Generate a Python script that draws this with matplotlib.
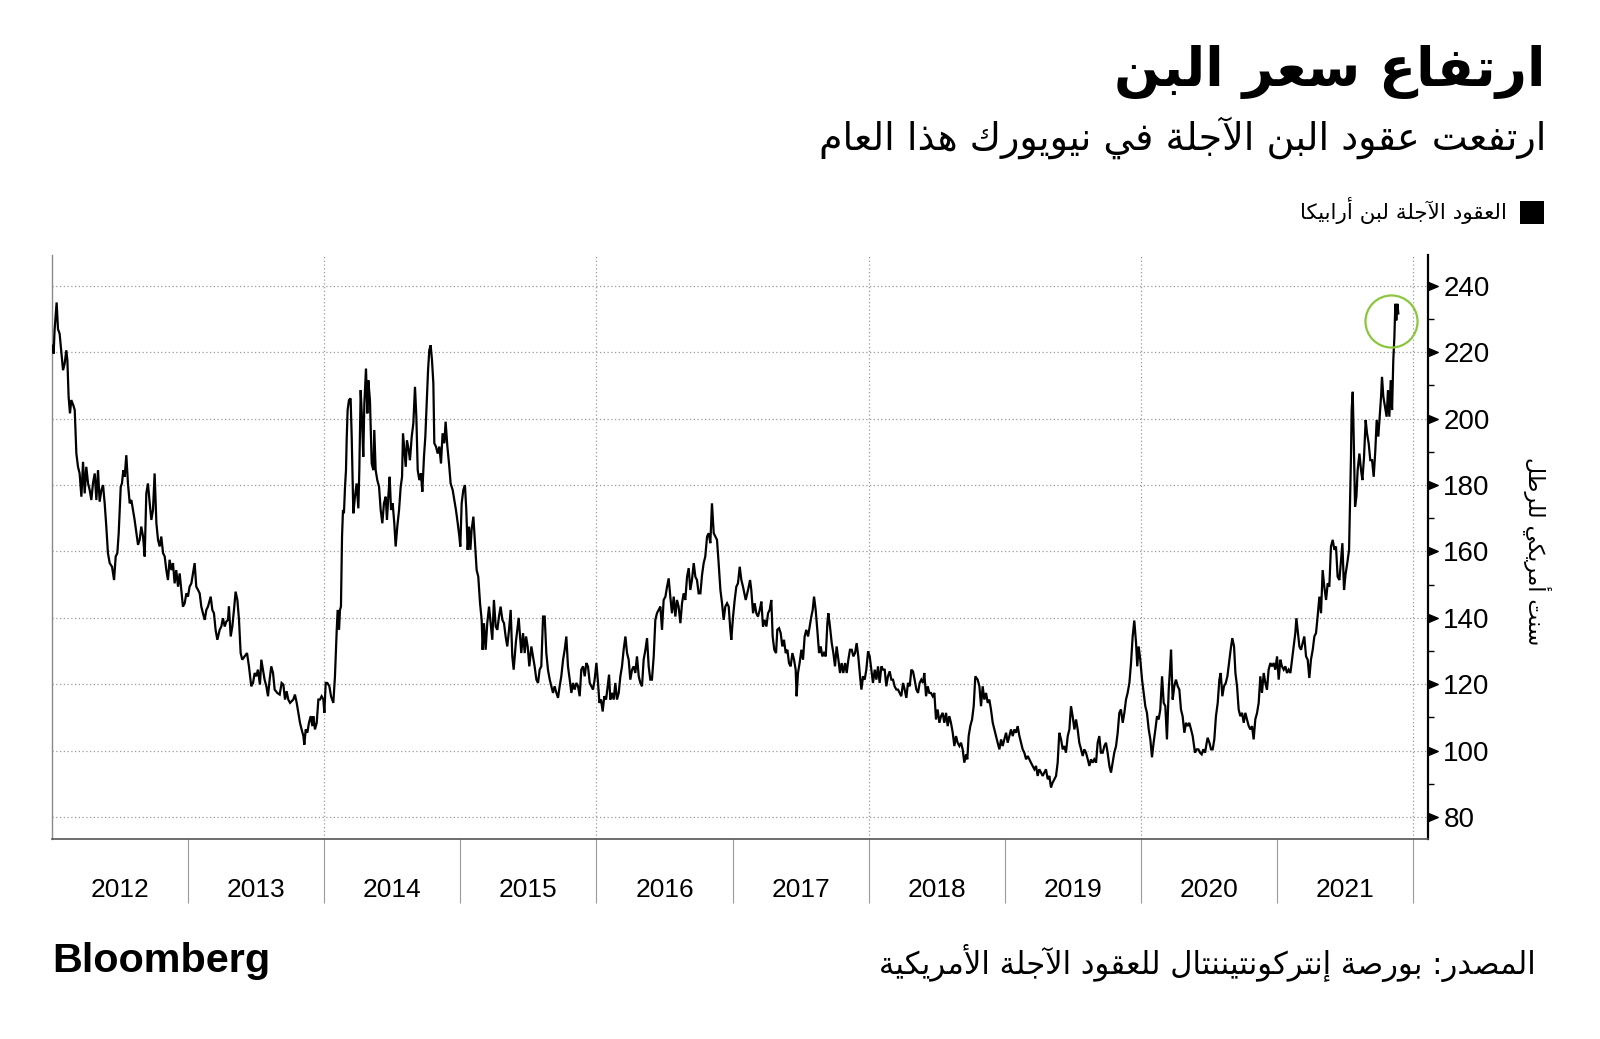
import matplotlib
matplotlib.use("Agg")
import matplotlib.pyplot as plt
from matplotlib import font_manager
from matplotlib.ft2font import FT2Font
from matplotlib.path import Path
from matplotlib.patches import Rectangle
import numpy as np

# ---------------------------------------------------------------- data
# (decimal year, US cents per pound)
seg_2012_13 = [
    (2012.005, 222), (2012.012, 219.6), (2012.019, 226.7), (2012.034, 235), (2012.044, 227),
    (2012.056, 225.6), (2012.069, 220), (2012.081, 214.6), (2012.093, 216.6), (2012.105, 220.6),
    (2012.113, 217.6), (2012.122, 206.6), (2012.132, 201.6), (2012.142, 205.6), (2012.157, 204),
    (2012.167, 202.6), (2012.179, 189.5), (2012.191, 185.5), (2012.203, 183.5), (2012.216, 176.5),
    (2012.228, 187), (2012.240, 177.5), (2012.252, 185.5), (2012.265, 180.5), (2012.277, 178.5),
    (2012.289, 175.5), (2012.301, 180.5), (2012.314, 183.5), (2012.326, 175.5), (2012.338, 184.5),
    (2012.350, 175), (2012.363, 178.5), (2012.375, 180), (2012.387, 174.5), (2012.399, 167.5),
    (2012.411, 159.5), (2012.424, 156.5), (2012.441, 155.4), (2012.456, 151.4), (2012.468, 158.5),
    (2012.480, 159.5), (2012.490, 165.5), (2012.505, 179.5), (2012.514, 180.5), (2012.524, 184.5),
    (2012.534, 182.5), (2012.546, 189), (2012.558, 180.5), (2012.571, 174.5), (2012.583, 175.5),
    (2012.595, 172.5), (2012.607, 169.5), (2012.620, 165.5), (2012.632, 162), (2012.644, 163.5),
    (2012.656, 167.5), (2012.669, 164.5), (2012.681, 158.5), (2012.693, 177.5), (2012.705, 180.5),
    (2012.718, 174.5), (2012.730, 169.5), (2012.742, 172.5), (2012.754, 183.5), (2012.767, 168.5),
    (2012.779, 163.5), (2012.791, 161.5), (2012.803, 164.5), (2012.816, 159.5), (2012.828, 158.5),
    (2012.840, 154.4), (2012.852, 151.4), (2012.864, 157.5), (2012.877, 154.4), (2012.889, 156.5),
    (2012.901, 150.4), (2012.913, 154.4), (2012.926, 149.4), (2012.938, 153.4), (2012.950, 148.4),
    (2012.962, 143.4), (2012.975, 144.4), (2012.987, 147.4), (2012.999, 146.4), (2013.011, 149.4),
    (2013.024, 150.4), (2013.036, 153.4), (2013.048, 156.5), (2013.060, 149.4), (2013.073, 148.4),
    (2013.085, 147.4), (2013.097, 143.4), (2013.109, 141.4), (2013.122, 139.4), (2013.134, 142.4),
    (2013.146, 143.4), (2013.166, 146.4), (2013.178, 142.4), (2013.190, 141.4), (2013.202, 136.4),
    (2013.215, 133.4), (2013.232, 136.4), (2013.244, 137.4), (2013.256, 139.9), (2013.269, 137.4),
    (2013.281, 138.9), (2013.293, 139.4), (2013.300, 143.4), (2013.313, 134.4), (2013.325, 137.4),
    (2013.337, 142.4), (2013.349, 147.9), (2013.362, 145.4), (2013.374, 139.4), (2013.386, 129.4),
    (2013.398, 127.4), (2013.415, 128.4), (2013.433, 129.4), (2013.447, 125.4), (2013.464, 119.4),
    (2013.477, 120.4), (2013.489, 123.4), (2013.501, 122.4), (2013.513, 124.4), (2013.528, 119.9),
    (2013.538, 127.4), (2013.550, 124.4), (2013.562, 121.4), (2013.575, 119.4), (2013.587, 116.4),
    (2013.599, 121.4), (2013.611, 125.4), (2013.624, 123.4), (2013.636, 118.4), (2013.655, 117.4),
    (2013.673, 116.9),
]

seg_2013_15 = [
    (2013.687, 120.4), (2013.700, 119.9), (2013.712, 115.4), (2013.724, 117.9), (2013.736, 115.4),
    (2013.749, 114.4), (2013.761, 114.9), (2013.773, 115.4), (2013.785, 116.9), (2013.798, 114.4),
    (2013.810, 111.4), (2013.822, 108.4), (2013.834, 106.4), (2013.847, 104.4), (2013.854, 101.8),
    (2013.864, 106.4), (2013.876, 105.4), (2013.888, 108.4), (2013.901, 110.4), (2013.913, 107.4),
    (2013.920, 110.4), (2013.932, 106.4), (2013.945, 108.4), (2013.957, 115.4), (2013.969, 115.4),
    (2013.981, 116.4), (2013.994, 115.4), (2014.001, 111.4), (2014.011, 120.4), (2014.023, 120.4),
    (2014.038, 119.4), (2014.050, 116.4), (2014.067, 114.4), (2014.079, 122.4), (2014.092, 136.4),
    (2014.099, 142.4), (2014.109, 136.4), (2014.116, 142.4), (2014.123, 143.4), (2014.131, 164.5),
    (2014.138, 172.5), (2014.145, 171.5), (2014.153, 179.5), (2014.160, 184.5), (2014.165, 193.5),
    (2014.172, 202.6), (2014.182, 205.6), (2014.194, 206.1), (2014.202, 194.6), (2014.214, 171.5),
    (2014.226, 176.5), (2014.238, 180.5), (2014.251, 173), (2014.258, 184.5), (2014.268, 208.6),
    (2014.278, 199.6), (2014.287, 188.5), (2014.295, 204.6), (2014.307, 215.1), (2014.317, 201.6),
    (2014.324, 211.6), (2014.336, 205.6), (2014.349, 186.5), (2014.361, 184.5), (2014.368, 196.6),
    (2014.378, 184.5), (2014.390, 181.5), (2014.403, 179.5), (2014.415, 172.5), (2014.427, 168.5),
    (2014.439, 174.5), (2014.452, 176.5), (2014.461, 169.5), (2014.471, 176.5), (2014.481, 182.5),
    (2014.491, 172.5), (2014.503, 174.5), (2014.515, 168.5), (2014.525, 161.5), (2014.537, 167.5),
    (2014.550, 172.5), (2014.562, 179.5), (2014.572, 182.5), (2014.579, 195.6), (2014.589, 190.5),
    (2014.599, 185.5), (2014.608, 193.5), (2014.621, 190.5), (2014.630, 187.5), (2014.643, 194.6),
    (2014.655, 198.6), (2014.667, 209.6), (2014.677, 200.6), (2014.687, 184.5), (2014.699, 181.5),
    (2014.711, 183.5), (2014.721, 178), (2014.733, 188.5), (2014.743, 194.6), (2014.753, 204.6),
    (2014.763, 214.6), (2014.772, 220.6), (2014.782, 222.1), (2014.792, 217.6), (2014.802, 210.6),
    (2014.809, 192.6), (2014.821, 191.6), (2014.834, 189.5), (2014.846, 191.6), (2014.858, 186.5),
    (2014.870, 195.6), (2014.883, 192.6), (2014.892, 199.1), (2014.905, 191.6), (2014.917, 186.5),
    (2014.929, 180.5), (2014.944, 178.5), (2014.956, 175.5), (2014.968, 172.5), (2014.981, 168.5),
    (2014.993, 164.5), (2015.000, 161.5), (2015.010, 174.5), (2015.022, 178.5), (2015.034, 180),
    (2015.044, 172.5), (2015.054, 160.5), (2015.064, 167.5), (2015.074, 160.5), (2015.083, 166.5),
    (2015.096, 170.5), (2015.108, 162.5), (2015.120, 154.4), (2015.132, 152.4), (2015.145, 144.4),
    (2015.157, 139.4), (2015.164, 130.4), (2015.174, 138.4), (2015.186, 130.4), (2015.198, 138.4),
    (2015.211, 143.4), (2015.223, 138.4), (2015.235, 133.4), (2015.247, 145.4), (2015.260, 137.4),
    (2015.272, 136.4), (2015.284, 140.4), (2015.296, 143.4), (2015.309, 139.4), (2015.321, 138.4),
    (2015.333, 134.4), (2015.345, 131.4), (2015.358, 136.4), (2015.370, 142.4), (2015.382, 128.4),
]

seg_2015_17 = [
    (2015.392, 124.4), (2015.409, 133), (2015.429, 140), (2015.448, 129.4), (2015.461, 135.4),
    (2015.473, 129.4), (2015.483, 134.4), (2015.495, 131.4), (2015.507, 125.4), (2015.522, 131.4),
    (2015.534, 128.4), (2015.546, 125.4), (2015.559, 121.4), (2015.571, 120.4), (2015.583, 124.4),
    (2015.595, 125.4), (2015.608, 140.4), (2015.620, 140.4), (2015.632, 129.4), (2015.644, 124.4),
    (2015.657, 121.4), (2015.669, 119.4), (2015.681, 117.4), (2015.693, 119.4), (2015.706, 117.4),
    (2015.718, 115.9), (2015.730, 119.4), (2015.742, 122.4), (2015.755, 127.4), (2015.767, 130.4),
    (2015.779, 134.4), (2015.791, 125.4), (2015.804, 121.4), (2015.816, 117.4), (2015.828, 120.4),
    (2015.840, 118.4), (2015.853, 120.4), (2015.865, 119.4), (2015.877, 116.4), (2015.889, 124.4),
    (2015.902, 125.4), (2015.914, 122.4), (2015.926, 126.4), (2015.938, 125.4), (2015.951, 120.4),
    (2015.963, 119.4), (2015.975, 118.4), (2015.987, 121.4), (2016.000, 126.4), (2016.012, 120.4),
    (2016.022, 114.4), (2016.034, 115.4), (2016.046, 111.8), (2016.058, 116.4), (2016.071, 115.4),
    (2016.083, 119.4), (2016.093, 122.9), (2016.102, 115.4), (2016.115, 117.4), (2016.127, 115.4),
    (2016.139, 120.4), (2016.151, 115.4), (2016.164, 117.4), (2016.176, 122.4), (2016.188, 125.4),
    (2016.200, 130.4), (2016.213, 134.4), (2016.225, 129.4), (2016.237, 127.4), (2016.249, 121.4),
    (2016.262, 124.4), (2016.274, 125.4), (2016.286, 123.4), (2016.298, 128.4), (2016.311, 122.4),
    (2016.323, 120.4), (2016.335, 119.4), (2016.347, 127.4), (2016.360, 130.4), (2016.372, 133.9),
    (2016.384, 125.4), (2016.396, 121.4), (2016.408, 121.4), (2016.421, 128.4), (2016.433, 139.4),
    (2016.445, 141.4), (2016.457, 142.4), (2016.470, 143.4), (2016.482, 136.4), (2016.494, 145.4),
    (2016.507, 146.4), (2016.519, 149.4), (2016.531, 151.9), (2016.543, 146.4), (2016.555, 141.4),
    (2016.568, 146.4), (2016.580, 140.4), (2016.592, 145.4), (2016.604, 143.4), (2016.617, 138.4),
    (2016.629, 144.4), (2016.641, 147.4), (2016.653, 145.4), (2016.666, 152.4), (2016.678, 155),
    (2016.690, 148.4), (2016.702, 151.4), (2016.715, 156.5), (2016.727, 152.4), (2016.739, 151.4),
    (2016.751, 147.4), (2016.764, 147.4), (2016.776, 152.9), (2016.788, 156.5), (2016.800, 158.5),
    (2016.813, 164.5), (2016.825, 165.5), (2016.837, 162.5), (2016.849, 174.5), (2016.862, 165.5),
    (2016.874, 164.5), (2016.886, 163.5), (2016.898, 156.5), (2016.911, 148.4), (2016.923, 144.4),
    (2016.935, 139.4), (2016.947, 143.4), (2016.960, 144.4), (2016.972, 143.4), (2016.984, 136.4),
    (2016.991, 133.4), (2017.004, 140.4), (2017.016, 145.4), (2017.028, 149.4), (2017.040, 150.4),
    (2017.053, 155.4), (2017.065, 151.4), (2017.077, 149.4),
]

seg_2017_18 = [
    (2017.097, 145.4), (2017.114, 148.4), (2017.129, 151.4), (2017.138, 148.4), (2017.151, 141.4),
    (2017.163, 144.4), (2017.175, 141.4), (2017.187, 140.4), (2017.200, 142.4), (2017.212, 144.9),
    (2017.224, 137.4), (2017.236, 139.4), (2017.249, 137.4), (2017.261, 141.4), (2017.273, 142.4),
    (2017.285, 145.4), (2017.295, 134.4), (2017.307, 130.4), (2017.320, 129.4), (2017.329, 136.4),
    (2017.342, 136.9), (2017.354, 135.4), (2017.366, 131.4), (2017.378, 133.4), (2017.391, 129.4),
    (2017.403, 130.4), (2017.415, 126.4), (2017.427, 125.4), (2017.440, 129.4), (2017.452, 127.4),
    (2017.464, 124.4), (2017.471, 116.4), (2017.481, 123.4), (2017.493, 126.4), (2017.506, 130.4),
    (2017.518, 127.4), (2017.530, 134.4), (2017.542, 136.4), (2017.555, 134.4), (2017.567, 137.4),
    (2017.579, 140.4), (2017.589, 142.4), (2017.599, 146.4), (2017.611, 142.4), (2017.623, 136.4),
    (2017.636, 129.4), (2017.648, 131.4), (2017.660, 128.4), (2017.672, 129.4), (2017.685, 128.4),
    (2017.697, 138.4), (2017.704, 141.4), (2017.716, 137.4), (2017.729, 132.4), (2017.741, 129.4),
    (2017.753, 125.4), (2017.765, 131.4), (2017.778, 127.4), (2017.790, 123.4), (2017.802, 126.4),
    (2017.814, 123.4), (2017.827, 126.4), (2017.839, 123.4), (2017.851, 127.4), (2017.863, 130.4),
    (2017.876, 130.4), (2017.888, 128.4), (2017.900, 129.4), (2017.912, 132.4), (2017.924, 128.4),
    (2017.937, 122.4), (2017.947, 118.4), (2017.959, 122.4), (2017.971, 121.4), (2017.983, 124.4),
    (2017.996, 129.9), (2018.008, 128.4), (2018.020, 124.4), (2018.032, 120.4), (2018.045, 124.4),
    (2018.057, 121.4), (2018.069, 125.4), (2018.081, 120.4), (2018.094, 125.4), (2018.106, 124.4),
    (2018.118, 124.4), (2018.130, 119.4), (2018.142, 122.4), (2018.155, 123.9), (2018.167, 121.4),
    (2018.179, 121.4), (2018.191, 119.4), (2018.204, 118.4), (2018.216, 118.4), (2018.228, 117.4),
    (2018.240, 116.4), (2018.253, 120.4), (2018.265, 118.4), (2018.277, 115.9), (2018.289, 120.4),
    (2018.302, 119.4), (2018.314, 124.4), (2018.326, 123.9), (2018.338, 121.4), (2018.351, 118.4),
    (2018.363, 117.4), (2018.375, 120.4), (2018.387, 121.4), (2018.400, 120.4), (2018.409, 123.4),
    (2018.422, 116.4), (2018.434, 119.4), (2018.446, 117.4), (2018.458, 117.4), (2018.471, 116.4),
    (2018.483, 117.4), (2018.495, 109.4), (2018.507, 112.4), (2018.520, 108.4), (2018.532, 110.4),
    (2018.544, 111.4), (2018.556, 108.4), (2018.569, 111.4), (2018.581, 107.4), (2018.593, 110.4),
    (2018.605, 108.4), (2018.618, 105.4), (2018.630, 101.4), (2018.642, 104.4), (2018.654, 102.4),
    (2018.667, 101.4), (2018.679, 102.4), (2018.691, 100.4), (2018.703, 96.4), (2018.716, 98.9),
    (2018.725, 97.4), (2018.735, 104.4), (2018.747, 107.4), (2018.760, 109.4), (2018.772, 113.4),
    (2018.784, 122.4),
]

seg_2018_20 = [
    (2018.801, 121.4), (2018.814, 119.4), (2018.826, 113.4), (2018.838, 119.4), (2018.850, 115.4),
    (2018.863, 117.4), (2018.875, 114.4), (2018.887, 115.4), (2018.899, 112.4), (2018.912, 108.4),
    (2018.924, 106.4), (2018.936, 104.4), (2018.948, 102.4), (2018.961, 100.4), (2018.973, 103.4),
    (2018.985, 101.4), (2018.997, 103.4), (2019.010, 105.4), (2019.022, 102.4), (2019.034, 104.4),
    (2019.046, 106.4), (2019.059, 104.4), (2019.071, 106.4), (2019.083, 105.4), (2019.095, 107.4),
    (2019.108, 104.4), (2019.120, 102.4), (2019.132, 100.4), (2019.144, 99.4), (2019.157, 97.4),
    (2019.169, 98.4), (2019.181, 97.4), (2019.193, 96.4), (2019.205, 95.4), (2019.218, 94.4),
    (2019.230, 95.4), (2019.242, 92.4), (2019.254, 94.4), (2019.267, 93.4), (2019.279, 92.4),
    (2019.291, 93.4), (2019.303, 94.4), (2019.316, 91.4), (2019.328, 92.4), (2019.340, 88.9),
    (2019.352, 90.4), (2019.365, 91.4), (2019.377, 92.4), (2019.389, 96.4), (2019.401, 105.4),
    (2019.414, 103.4), (2019.426, 100.4), (2019.438, 101.4), (2019.450, 99.4), (2019.463, 104.4),
    (2019.475, 106.4), (2019.487, 113.4), (2019.499, 110.4), (2019.512, 106.4), (2019.524, 109.4),
    (2019.536, 106.4), (2019.548, 102.4), (2019.561, 100.4), (2019.573, 98.4), (2019.585, 100.4),
    (2019.597, 99.4), (2019.610, 97.4), (2019.622, 95.4), (2019.634, 97.4), (2019.646, 96.4),
    (2019.658, 97.4), (2019.671, 96.4), (2019.683, 102.4), (2019.695, 104.4), (2019.707, 99.4),
    (2019.720, 99.4), (2019.732, 101.4), (2019.744, 102.4), (2019.756, 99.4), (2019.769, 95.4),
    (2019.781, 93.4), (2019.793, 96.4), (2019.805, 99.4), (2019.818, 101.4), (2019.830, 105.4),
    (2019.842, 111.4), (2019.854, 112.4), (2019.867, 108.4), (2019.879, 111.4), (2019.891, 115.4),
    (2019.903, 117.4), (2019.916, 120.4), (2019.928, 126.4), (2019.940, 134.4), (2019.952, 139.2),
    (2019.965, 132.4), (2019.974, 125.4), (2019.984, 131.4), (2019.996, 127.4), (2020.009, 121.4),
    (2020.021, 117.4), (2020.033, 113.4), (2020.045, 111.4), (2020.058, 106.4), (2020.070, 103.4),
    (2020.082, 98), (2020.094, 102.4), (2020.107, 106.4), (2020.119, 110.4), (2020.131, 109.4),
    (2020.143, 112.4), (2020.156, 122.4), (2020.168, 114.4), (2020.180, 113.4), (2020.192, 103.4),
    (2020.205, 118.4), (2020.214, 124.4), (2020.222, 130.4), (2020.234, 115.4), (2020.246, 119.4),
    (2020.258, 121.4), (2020.271, 119.4), (2020.283, 118.4), (2020.295, 112.4), (2020.307, 110.4),
    (2020.320, 105.4), (2020.332, 108.4), (2020.344, 107.4), (2020.356, 108.4), (2020.369, 106.4),
    (2020.381, 104.4),
]

seg_2020_21 = [
    (2020.398, 99.4), (2020.410, 100.4), (2020.423, 100.4), (2020.435, 99.4), (2020.447, 98.9),
    (2020.459, 100.4), (2020.472, 99.4), (2020.484, 102.4), (2020.491, 103.9), (2020.504, 102.4),
    (2020.516, 100.4), (2020.528, 100.4), (2020.540, 103.4), (2020.552, 110.4), (2020.565, 114.4),
    (2020.577, 121.4), (2020.587, 123.4), (2020.599, 116.4), (2020.611, 119.4), (2020.624, 120.4),
    (2020.636, 122.4), (2020.648, 126.4), (2020.660, 130.4), (2020.672, 133.9), (2020.685, 131.4),
    (2020.695, 123.4), (2020.707, 119.4), (2020.719, 112.4), (2020.731, 110.4), (2020.744, 111.4),
    (2020.756, 108.4), (2020.768, 111.4), (2020.780, 109.4), (2020.793, 107.4), (2020.805, 106.4),
    (2020.817, 107.4), (2020.829, 103.4), (2020.841, 109.4), (2020.854, 111.4), (2020.866, 114.4),
    (2020.878, 122.4), (2020.890, 117.4), (2020.903, 123.4), (2020.915, 120.4), (2020.927, 118.4),
    (2020.939, 124.4), (2020.952, 126.4), (2020.964, 125.4), (2020.976, 126.4), (2020.988, 124.4),
    (2021.001, 128.4), (2021.013, 121.4), (2021.025, 127.4), (2021.037, 125.4), (2021.050, 124.4),
    (2021.062, 125.4), (2021.074, 123.4), (2021.086, 124.4), (2021.099, 123.4), (2021.111, 127.4),
    (2021.123, 131.4), (2021.135, 135.4), (2021.143, 139.9), (2021.152, 136.4), (2021.165, 131.4),
    (2021.177, 130.4), (2021.189, 132.4), (2021.201, 134.4), (2021.214, 128.4), (2021.226, 127.4),
    (2021.238, 121.9), (2021.250, 127.4), (2021.263, 130.4), (2021.275, 134.4), (2021.287, 135.4),
    (2021.299, 140.4), (2021.312, 146.4), (2021.324, 141.4), (2021.336, 154.4), (2021.348, 149.4),
    (2021.361, 145.4), (2021.373, 150.4), (2021.385, 149.4), (2021.397, 161.5), (2021.410, 163.5),
    (2021.422, 160.5), (2021.434, 161.5), (2021.446, 152.4), (2021.459, 151.4), (2021.471, 157.5),
    (2021.481, 162.5), (2021.493, 148.4), (2021.505, 153.4), (2021.517, 156.5), (2021.530, 160.5),
    (2021.537, 174.5), (2021.544, 188.5), (2021.549, 202.6), (2021.557, 208.1), (2021.564, 194.6),
    (2021.574, 173.5), (2021.584, 176.5), (2021.593, 184.5), (2021.606, 189.5), (2021.618, 184.5),
    (2021.628, 181.5), (2021.640, 188.5), (2021.652, 199.6), (2021.662, 195.6), (2021.674, 192.6),
    (2021.686, 187.5), (2021.699, 187.5), (2021.711, 182.5), (2021.723, 190.5), (2021.733, 199.6),
    (2021.745, 194.6), (2021.757, 201.6), (2021.765, 206.6), (2021.772, 212.6), (2021.782, 206.6),
    (2021.794, 203.6), (2021.806, 200.6), (2021.816, 208.6), (2021.826, 200.6), (2021.836, 211.6),
    (2021.846, 202.6), (2021.855, 217.6), (2021.863, 224.6), (2021.870, 234.6), (2021.877, 229.6),
    (2021.885, 234.6), (2021.892, 231.7),
]

highlight = (2021.836, 229.4)            # centre of the green circle

years = [2012, 2013, 2014, 2015, 2016, 2017, 2018, 2019, 2020, 2021]
y_ticks = [80, 100, 120, 140, 160, 180, 200, 220, 240]

title = "ارتفاع سعر البن"
subtitle = "ارتفعت عقود البن الآجلة في نيويورك هذا العام"
legend_label = "العقود الآجلة لبن أرابيكا"
y_label = "سنت أمريكي للرطل"
source = "المصدر: بورصة إنتركونتيننتال للعقود الآجلة الأمريكية"
brand = "Bloomberg"

# ---------------------------------------------------------------- arabic shaping
_D = "D"
_R = "R"
_TABLE = {
    0x0622: (_R, 0xFE81), 0x0623: (_R, 0xFE83), 0x0624: (_R, 0xFE85), 0x0625: (_R, 0xFE87),
    0x0626: (_D, 0xFE89), 0x0627: (_R, 0xFE8D), 0x0628: (_D, 0xFE8F), 0x0629: (_R, 0xFE93),
    0x062A: (_D, 0xFE95), 0x062B: (_D, 0xFE99), 0x062C: (_D, 0xFE9D), 0x062D: (_D, 0xFEA1),
    0x062E: (_D, 0xFEA5), 0x062F: (_R, 0xFEA9), 0x0630: (_R, 0xFEAB), 0x0631: (_R, 0xFEAD),
    0x0632: (_R, 0xFEAF), 0x0633: (_D, 0xFEB1), 0x0634: (_D, 0xFEB5), 0x0635: (_D, 0xFEB9),
    0x0636: (_D, 0xFEBD), 0x0637: (_D, 0xFEC1), 0x0638: (_D, 0xFEC5), 0x0639: (_D, 0xFEC9),
    0x063A: (_D, 0xFECD), 0x0641: (_D, 0xFED1), 0x0642: (_D, 0xFED5), 0x0643: (_D, 0xFED9),
    0x0644: (_D, 0xFEDD), 0x0645: (_D, 0xFEE1), 0x0646: (_D, 0xFEE5), 0x0647: (_D, 0xFEE9),
    0x0648: (_R, 0xFEED), 0x0649: (_R, 0xFEEF), 0x064A: (_D, 0xFEF1),
}
_LAMALEF = {0x0622: 0xFEF5, 0x0623: 0xFEF7, 0x0625: 0xFEF9, 0x0627: 0xFEFB}


def shape(s):
    out = []
    n = len(s)
    i = 0
    prev_joins = False
    while i < n:
        cp = ord(s[i])
        if cp in _TABLE:
            typ, base = _TABLE[cp]
            if cp == 0x0644 and i + 1 < n and ord(s[i + 1]) in _LAMALEF:
                out.append(chr(_LAMALEF[ord(s[i + 1])] + (1 if prev_joins else 0)))
                prev_joins = False
                i += 2
                continue
            nxt = ord(s[i + 1]) if i + 1 < n else None
            joins_next = typ == _D and nxt in _TABLE
            if prev_joins and joins_next:
                f = 3
            elif prev_joins:
                f = 1
            elif joins_next:
                f = 2
            else:
                f = 0
            out.append(chr(base + f))
            prev_joins = typ == _D
        else:
            out.append(s[i])
            prev_joins = False
        i += 1
    return "".join(reversed(out))


def font_available(name):
    try:
        font_manager.findfont(font_manager.FontProperties(family=name), fallback_to_default=False)
        return True
    except Exception:
        return False


ARABIC = "DejaVu Sans"
bold_path = font_manager.findfont(font_manager.FontProperties(family=ARABIC, weight="bold"))
try:
    cmap = FT2Font(bold_path).get_charmap()
    ar_bold = "bold" if (0xFEFB in cmap and 0xFE8D in cmap) else "normal"
except Exception:
    ar_bold = "normal"
LATIN = "Liberation Sans" if font_available("Liberation Sans") else "DejaVu Sans"

# ---------------------------------------------------------------- figure
W, H = 1600, 1039
fig = plt.figure(figsize=(W / 100, H / 100), dpi=100, facecolor="white")


def fx(x):
    return x / W


def fy(y):
    return 1 - y / H


ax_left, ax_right, ax_top, ax_bottom = 52, 1428, 255, 839
ax = fig.add_axes([fx(ax_left), fy(ax_bottom), fx(ax_right - ax_left), (ax_bottom - ax_top) / H])

segments = [seg_2012_13, seg_2013_15, seg_2015_17, seg_2017_18, seg_2018_20, seg_2020_21]
pts = np.array([p for seg in segments for p in seg], dtype=float)
dates, prices = pts[:, 0], pts[:, 1]

grid_style = dict(color="#9a9a9a", lw=0.9, ls=(0, (1, 2)))
ax.set_xlim(2012.0, 2022.11)
ax.set_ylim(73.4, 249.3)

for g in range(2014, 2023, 2):
    ax.axvline(g, zorder=1, **grid_style)
ax.set_yticks(y_ticks)
ax.set_yticks(np.arange(90, 240, 20), minor=True)
ax.yaxis.grid(True, which="major", zorder=1, **grid_style)
ax.set_axisbelow(True)

ax.plot(dates, prices, color="black", lw=1.6, zorder=3, solid_joinstyle="miter")
ax.plot([highlight[0]], [highlight[1]], marker="o", ms=37.5, mfc="none",
        mec="#8cc63f", mew=1.6, zorder=4, ls="none")

# spines
ax.spines["top"].set_visible(False)
ax.spines["left"].set_color("#8a8a8a")
ax.spines["left"].set_linewidth(1.0)
ax.spines["bottom"].set_color("#555555")
ax.spines["bottom"].set_linewidth(1.2)
ax.spines["right"].set_color("black")
ax.spines["right"].set_linewidth(1.6)

# y axis on the right
ax.yaxis.tick_right()
ax.tick_params(axis="y", which="major", length=7, width=1, colors="black", pad=4,
               labelsize=20, left=False, right=True)
ax.tick_params(axis="y", which="minor", length=4.5, width=1, colors="black",
               left=False, right=True)
ax.set_yticklabels([str(v) for v in y_ticks], fontfamily=LATIN)

# x axis: separators at year boundaries, labels centred inside each year
ax.set_xticks(list(range(2013, 2023)))
ax.set_xticklabels([""] * 10)
ax.set_xticks([y + 0.5 for y in years], minor=True)
ax.set_xticklabels([str(y) for y in years], minor=True, fontfamily=LATIN)
ax.tick_params(axis="x", which="major", length=46, width=0.8, colors="#9a9a9a",
               direction="out")
ax.tick_params(axis="x", which="minor", length=0, pad=28, labelsize=19,
               labelcolor="black")

tri = Path([(0, -0.42), (0, 0.42), (1, 0), (0, -0.42)],
           [Path.MOVETO, Path.LINETO, Path.LINETO, Path.CLOSEPOLY])
for t in ax.yaxis.get_major_ticks():
    t.tick2line.set_marker(tri)
    t.tick2line.set_markersize(14)
    t.tick2line.set_markerfacecolor("black")
    t.tick2line.set_markeredgecolor("black")

# ---------------------------------------------------------------- texts
renderer = fig.canvas.get_renderer()


def fit(txt, target, vertical=False):
    bb = txt.get_window_extent(renderer)
    size = bb.height if vertical else bb.width
    txt.set_fontsize(txt.get_fontsize() * target / size)


t_title = fig.text(fx(1546), fy(72), shape(title), ha="right", va="center",
                   fontsize=44, fontweight=ar_bold, family=ARABIC)
fit(t_title, 431)
t_sub = fig.text(fx(1546), fy(138), shape(subtitle), ha="right", va="center",
                 fontsize=28, family=ARABIC)
fit(t_sub, 727)

fig.add_artist(Rectangle((fx(1520), fy(224)), fx(24), 23 / H, transform=fig.transFigure,
                         facecolor="black", edgecolor="none"))
t_leg = fig.text(fx(1507), fy(211), shape(legend_label), ha="right", va="center",
                 fontsize=16, family=ARABIC)
fit(t_leg, 208)

t_yl = fig.text(fx(1537), fy(551), shape(y_label), ha="center", va="center",
                rotation=270, fontsize=18, family=ARABIC)
fit(t_yl, 189, vertical=True)

t_src = fig.text(fx(1536), fy(963), shape(source), ha="right", va="center",
                 fontsize=24, family=ARABIC)
fit(t_src, 658)

t_brand = fig.text(fx(52), fy(961), brand, ha="left", va="center",
                   fontsize=30, fontweight="bold", family=LATIN)
fit(t_brand, 218)

fig.savefig("out.png", dpi=100, facecolor="white")
